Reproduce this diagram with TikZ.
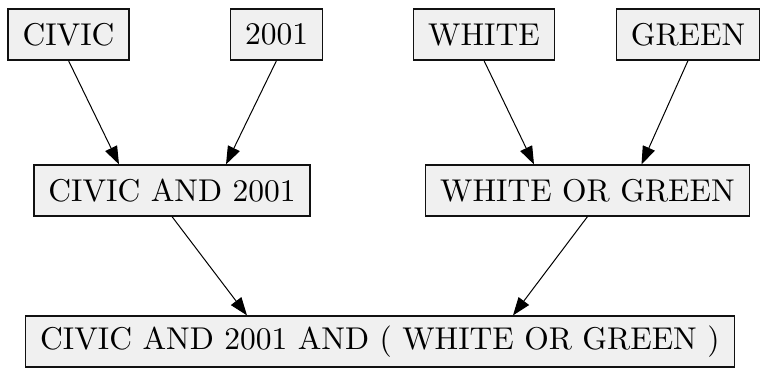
\documentclass[tikz,border=0pt]{standalone}
\usetikzlibrary{arrows.meta}
\definecolor{cFill}{HTML}{F0F0F0}
\definecolor{cInk}{HTML}{111111}
\def\wLine{0.5pt}
\def\wBox{0.6pt}
\font\termfont=cmr10 at 15.75pt
\tikzset{
  term/.style={draw=cInk, line width=\wBox, fill=cFill, inner xsep=7.25pt, inner ysep=0pt,
    minimum height=25.5pt, font=\termfont},
  link/.style={draw=black, line width=\wLine, -{Triangle[length=9pt, width=6.5pt]}},
}

\begin{document}
\begin{tikzpicture}[x=0.5pt, y=-0.5pt]
% canvas in reference pixels: 760 x 374, y grows downwards
\useasboundingbox (0,0) rectangle (760,374);

% ---- leaf terms
\node[term] (civic) at (68.5, 34.5)  {CIVIC};
\node[term] (yr)    at (276.5, 34.5) {2001};
\node[term] (white) at (484, 34.5)   {WHITE};
\node[term] (green) at (688, 34.5)   {GREEN};

% ---- combined terms
\node[term] (civicand) at (172, 190.5)   {CIVIC AND 2001};
\node[term] (whiteor)  at (587.5, 190.5) {WHITE OR GREEN};

% ---- full query
\node[term] (query) at (380, 341.5) {CIVIC AND 2001 AND ( WHITE OR GREEN )};

% ---- links
\draw[link] (civic.south) -- ([xshift=-26.5pt]civicand.north);
\draw[link] (yr.south)    -- ([xshift=27pt]civicand.north);
\draw[link] (white.south) -- ([xshift=-26.75pt]whiteor.north);
\draw[link] (green.south) -- ([xshift=27pt]whiteor.north);
\draw[link] (civicand.south) -- ([xshift=-66.5pt]query.north);
\draw[link] (whiteor.south)  -- ([xshift=66.5pt]query.north);
\end{tikzpicture}
\end{document}
